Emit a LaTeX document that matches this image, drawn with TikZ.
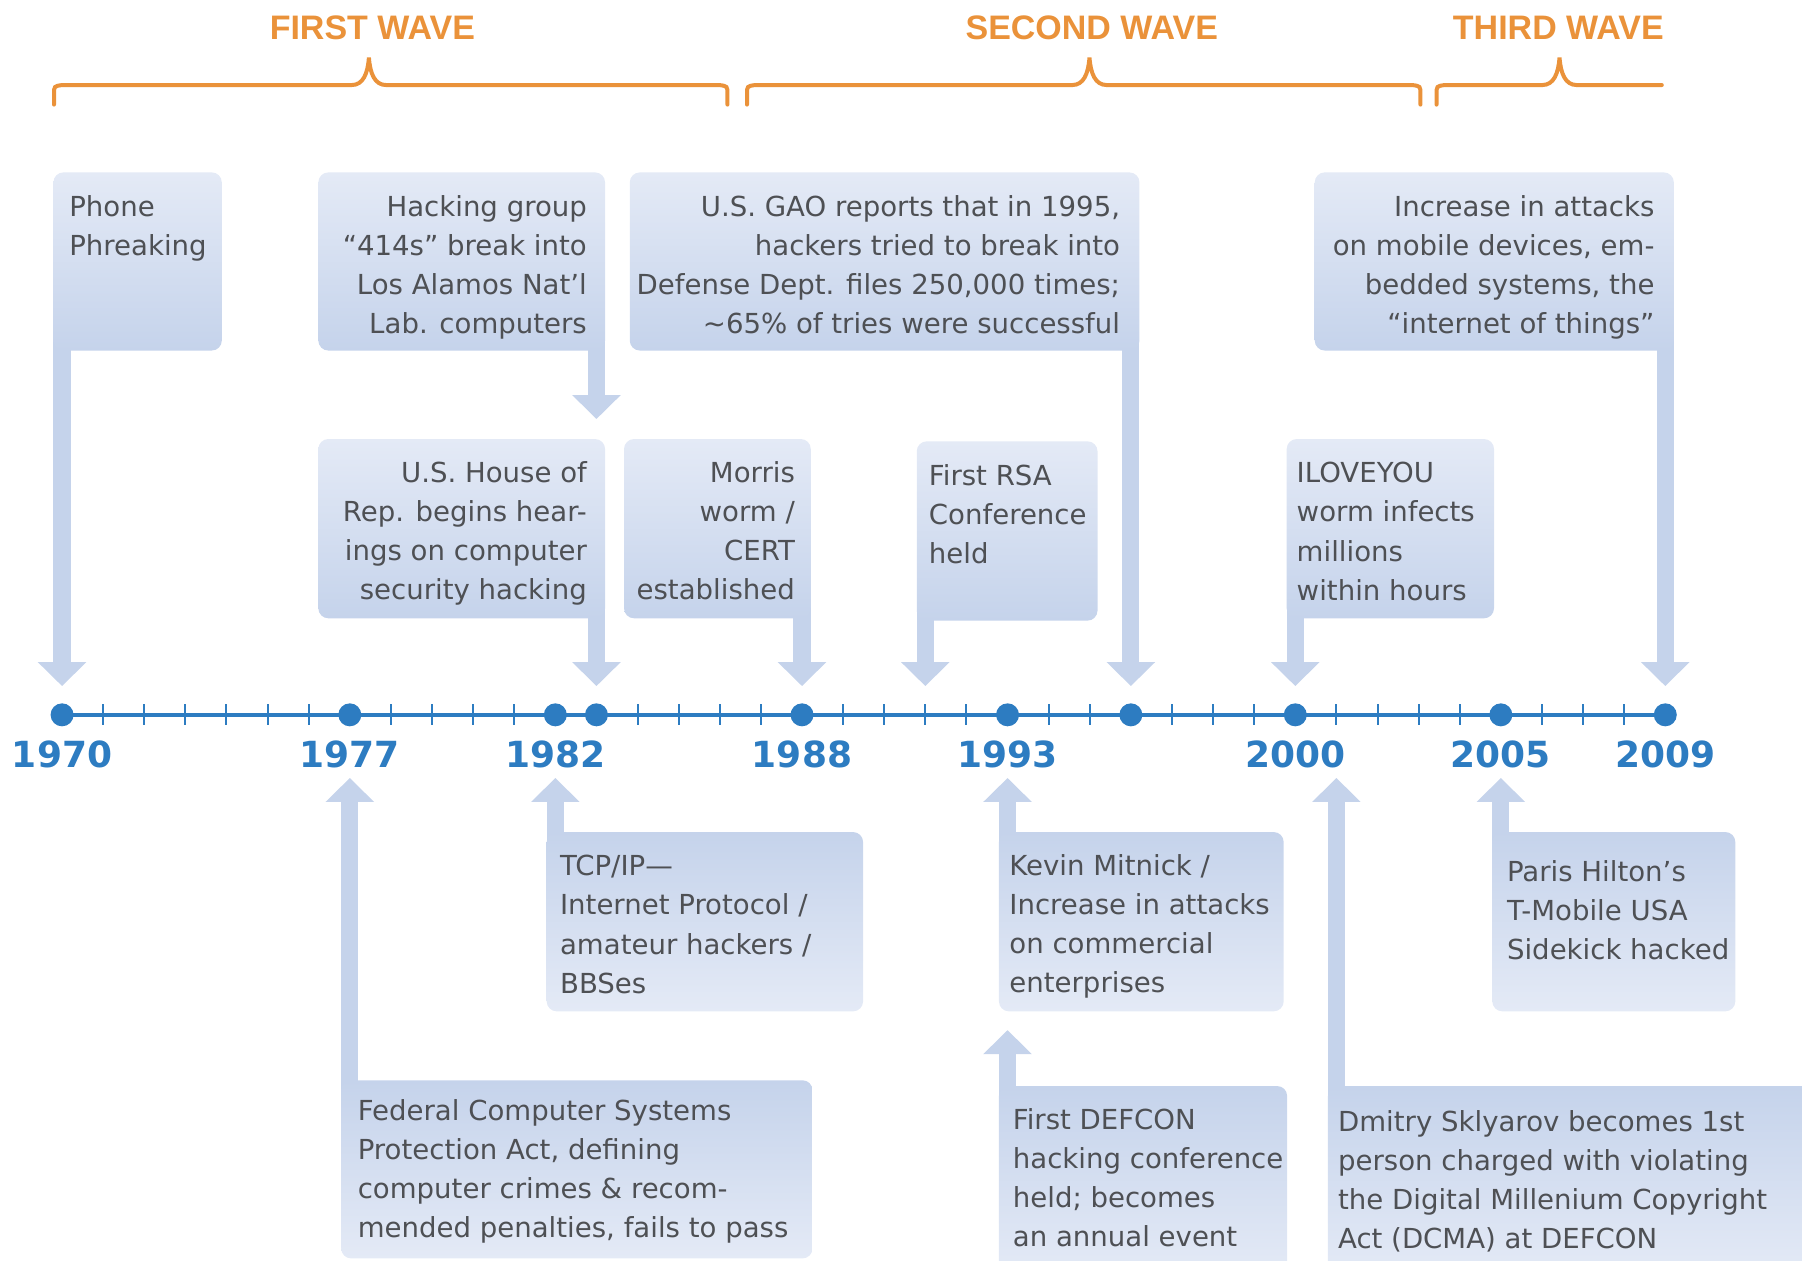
\documentclass[tikz,border=0pt]{standalone}
\usepackage{fontspec}
\setmainfont{DejaVu Sans}
\newfontfamily\wavefont{Liberation Sans}
\usetikzlibrary{arrows.meta,fit,backgrounds}
\definecolor{waveorange}{RGB}{234,146,58}
\definecolor{lineblue}{RGB}{45,124,193}
\definecolor{boxdark}{RGB}{197,211,235}
\definecolor{boxlight}{RGB}{228,234,246}
\definecolor{evgrey}{RGB}{78,80,84}
\tikzset{
  evbox/.style={inner sep=0pt, rounded corners=5pt},
  topbox/.style={evbox, top color=boxlight, bottom color=boxdark},
  botbox/.style={evbox, top color=boxdark, bottom color=boxlight},
  evtxt/.style={inner sep=0pt, text=evgrey, font=\fontsize{13.8}{19.55}\selectfont},
  txtl/.style={evtxt, anchor=north west, align=left},
  txtr/.style={evtxt, anchor=north east, align=right},
  evarrow/.style={draw=boxdark, line width=8.6pt, -{Triangle[width=23.6pt,length=12pt]}, shorten <=-12pt},
  downarr/.style={evarrow, shorten >=14.4pt},
  uparr/.style={evarrow, shorten >=31.6pt},
  yeardot/.style={circle, fill=lineblue, inner sep=0pt, minimum size=11.5pt},
  yeartick/.style={draw=lineblue, line width=1pt},
  year/.style={text=lineblue, inner sep=0pt, font=\fontsize{18}{20}\selectfont\bfseries},
  wavetitle/.style={text=waveorange, inner sep=0pt, font=\wavefont\fontsize{17}{20}\selectfont\bfseries},
  wavebrace/.style={draw=waveorange, line width=2pt, line cap=round}
}
\begin{document}
\begin{tikzpicture}[x=0.575pt, y=-0.575pt]
\useasboundingbox (0,0) rectangle (1568,1097);

\foreach \i [evaluate=\i as \yr using int(1970+\i)] in {0,...,39} {
  \coordinate (t\yr) at (54+\i*35.77,622);
  \draw[yeartick] (t\yr) ++(0,-9) -- ++(0,18);
}
\draw[lineblue, line width=2.2pt] (t1970) -- (t2009);
\foreach \yr in {1970,1977,1982,1983,1988,1993,1996,2000,2005,2009}
  \node[yeardot] (d\yr) at (t\yr) {};
\foreach \yr in {1970,1977,1982,1988,1993,2000,2005,2009}
  \node[year, yshift=-20pt] (y\yr) at (t\yr) {\yr};

\node[wavetitle] (w1) at (324,24) {FIRST WAVE};
\node[wavetitle] (w2) at (950,24) {SECOND WAVE};
\node[wavetitle] (w3) at (1356,24) {THIRD WAVE};
\foreach \a/\m/\b in {47/321/633, 650/948/1236}
  \draw[wavebrace] (\a,91) -- (\a,82) .. controls (\a,75) .. (\a+7,74) -- (\m-15,74)
    .. controls (\m-5,74) and (\m-1,64) .. (\m,50) .. controls (\m+1,64) and (\m+5,74) .. (\m+15,74)
    -- (\b-7,74) .. controls (\b,75) .. (\b,82) -- (\b,91);
\draw[wavebrace] (1250,91) -- (1250,82) .. controls (1250,75) .. (1257,74) -- (1342,74)
  .. controls (1352,74) and (1356,64) .. (1357,50) .. controls (1358,64) and (1362,74) .. (1372,74)
  -- (1446,74);

\node[topbox, fit={(46.5,150) (193,305)}] (phone) {};
\node[txtl] (phonet) at (60,170) {Phone\\Phreaking};
\node[topbox, fit={(277,150) (526.5,305)}] (hack) {};
\node[txtr] (hackt) at (511,170) {Hacking group\\“414s” break into\\Los Alamos Nat’l\\Lab. computers};
\node[topbox, fit={(548,150) (991.5,305)}] (gao) {};
\node[txtr] (gaot) at (975,170) {U.S. GAO reports that in 1995,\\hackers tried to break into\\Defense Dept. files 250,000 times;\\\textasciitilde65\% of tries were successful};
\node[topbox, fit={(1144,150) (1456.5,305)}] (iot) {};
\node[txtr] (iott) at (1440,170) {Increase in attacks\\on mobile devices, em-\\bedded systems, the\\“internet of things”};

\node[topbox, fit={(277,382) (526.5,538)}] (house) {};
\node[txtr] (houset) at (511,401) {U.S. House of\\Rep. begins hear-\\ings on computer\\security hacking};
\node[topbox, fit={(543,382) (705.5,538)}] (morris) {};
\node[txtr] (morrist) at (692,401) {Morris\\worm /\\CERT\\established};
\node[topbox, fit={(797.7,384) (955,540)}] (rsa) {};
\node[txtl] (rsat) at (808,404) {First RSA\\Conference\\held};
\node[topbox, fit={(1119.6,382) (1300,538)}] (love) {};
\node[txtl] (lovet) at (1128,402) {ILOVEYOU\\worm infects\\millions\\within hours};

\node[botbox, fit={(475.7,724) (751,880)}] (tcp) {};
\node[txtl] (tcpt) at (487,744) {TCP/IP—\\Internet Protocol /\\amateur hackers /\\BBSes};
\node[botbox, fit={(869.2,724) (1117,880)}] (kevin) {};
\node[txtl] (kevint) at (878,743) {Kevin Mitnick /\\Increase in attacks\\on commercial\\enterprises};
\node[botbox, fit={(1298.5,724) (1510,880)}] (paris) {};
\node[txtl] (parist) at (1311,748) {Paris Hilton’s\\T-Mobile USA\\Sidekick hacked};
\node[botbox, fit={(296.9,940) (707,1095)}] (fed) {};
\node[txtl] (fedt) at (311,956) {Federal Computer Systems\\Protection Act, defining\\computer crimes \& recom-\\mended penalties, fails to pass};
\node[botbox, fit={(869.2,945) (1120,1110)}] (defcon) {};
\node[txtl] (defcont) at (881,964) {First DEFCON\\hacking conference\\held; becomes\\an annual event};
\node[botbox, fit={(1155.5,945) (1600,1110)}] (dmitry) {};
\node[txtl] (dmitryt) at (1164,966) {Dmitry Sklyarov becomes 1st\\person charged with violating\\the Digital Millenium Copyright\\Act (DCMA) at DEFCON};

\begin{pgfonlayer}{background}
\draw[downarr] (phone.south -| t1970) -- (t1970);
\draw[evarrow, shorten >=9.8pt] (hack.south -| t1983) -- (house.north -| t1983);
\draw[downarr] (house.south -| t1983) -- (t1983);
\draw[downarr] (morris.south -| t1988) -- (t1988);
\draw[downarr] (rsa.south -| t1991) -- (t1991);
\draw[downarr] (gao.south -| t1996) -- (t1996);
\draw[downarr] (love.south -| t2000) -- (t2000);
\draw[downarr] (iot.south -| t2009) -- (t2009);
\draw[uparr] (fed.north -| t1977) -- (t1977);
\draw[uparr] (tcp.north -| t1982) -- (t1982);
\draw[uparr] (kevin.north -| t1993) -- (t1993);
\draw[evarrow, shorten >=9.2pt] (defcon.north -| t1993) -- (kevin.south -| t1993);
\draw[uparr] (dmitry.north -| t2001) -- (t2001);
\draw[uparr] (paris.north -| t2005) -- (t2005);
\end{pgfonlayer}
\end{tikzpicture}
\end{document}
